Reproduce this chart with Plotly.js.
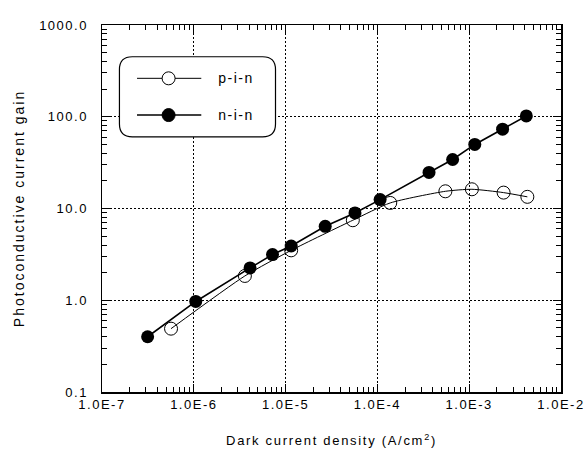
<!DOCTYPE html>
<html>
<head>
<meta charset="utf-8">
<script src="https://cdn.plot.ly/plotly-3.0.1.min.js"></script>
<style>
html,body{margin:0;padding:0;background:#fff;}
#chart{width:586px;height:457px;}
#chart .xtick text, #chart .ytick text { letter-spacing: 1.5px; }
#chart text.xtitle { letter-spacing: 1.7px; }
#chart text.ytitle { letter-spacing: 2px; }
#chart text.annotation-text { letter-spacing: 1.5px; }
</style>
</head>
<body>
<div id="chart"></div>
<script>
// p-i-n (open circles)
const pinX = [5.65e-7, 3.6e-6, 1.15e-5, 5.4e-5, 1.38e-4, 5.5e-4, 1.07e-3, 2.37e-3, 4.3e-3];
const pinY = [0.49, 1.84, 3.5, 7.45, 11.5, 15.4, 16.2, 14.9, 13.4];
// n-i-n (filled circles)
const ninX = [3.14e-7, 1.05e-6, 4.1e-6, 7.2e-6, 1.15e-5, 2.7e-5, 5.7e-5, 1.07e-4, 3.65e-4, 6.6e-4, 1.15e-3, 2.31e-3, 4.19e-3];
const ninY = [0.40, 0.97, 2.25, 3.15, 3.9, 6.4, 8.95, 12.5, 24.7, 34.2, 49.9, 73.3, 102];
// tick labels
const xTickVals = [1e-7, 1e-6, 1e-5, 1e-4, 1e-3, 1e-2];
const xTickText = ['1.0E-7', '1.0E-6', '1.0E-5', '1.0E-4', '1.0E-3', '1.0E-2'];
const yTickVals = [0.1, 1, 10, 100, 1000];
const yTickText = ['0.1', '1.0', '10.0', '100.0', '1000.0'];
const seriesNames = ['p-i-n', 'n-i-n'];

const font = 'Liberation Sans, Arial, sans-serif';

// minor tick positions (2..9 within each decade)
function minorTicks(d0, d1) {
  const out = [];
  for (let d = d0; d < d1; d++) for (let m = 2; m <= 9; m++) out.push(m * Math.pow(10, d));
  return out;
}

const traces = [
  {
    x: pinX, y: pinY, name: seriesNames[0], mode: 'lines+markers', showlegend: false,
    line: {color: 'black', width: 1, shape: 'spline', smoothing: 0.6},
    marker: {symbol: 'circle-open', size: 13, color: 'black', line: {width: 1}}
  },
  {
    x: ninX, y: ninY, name: seriesNames[1], mode: 'lines+markers', showlegend: false,
    line: {color: 'black', width: 1.6},
    marker: {symbol: 'circle', size: 13, color: 'black'}
  }
];

// rounded legend box (paper coords)
const x0 = 0.038, x1 = 0.378, y0 = 0.695, y1 = 0.9135, rx = 0.028, ry = 0.035;
const boxPath = `M${x0+rx},${y1} L${x1-rx},${y1} Q${x1},${y1} ${x1},${y1-ry} L${x1},${y0+ry} Q${x1},${y0} ${x1-rx},${y0} L${x0+rx},${y0} Q${x0},${y0} ${x0},${y0+ry} L${x0},${y1-ry} Q${x0},${y1} ${x0+rx},${y1} Z`;
const rowY = [0.8547, 0.7546];
const legLx0 = 0.0763, legLx1 = 0.2163, legMx = 0.1451, legTx = 0.2578;

const shapes = [
  {type: 'path', xref: 'paper', yref: 'paper', path: boxPath, line: {color: 'black', width: 1.2}, fillcolor: 'white', layer: 'above'}
];
const annotations = [];
rowY.forEach((ry_, i) => {
  shapes.push({type: 'line', xref: 'paper', yref: 'paper', x0: legLx0, x1: legLx1, y0: ry_, y1: ry_,
    line: {color: 'black', width: i === 0 ? 1 : 1.6}, layer: 'above'});
  shapes.push({type: 'circle', xref: 'paper', yref: 'paper', xsizemode: 'pixel', ysizemode: 'pixel',
    xanchor: legMx, yanchor: ry_, x0: -6.5, x1: 6.5, y0: -6.5, y1: 6.5,
    line: {color: 'black', width: 1}, fillcolor: i === 0 ? 'white' : 'black', layer: 'above'});
  annotations.push({xref: 'paper', yref: 'paper', x: legTx, y: ry_, xanchor: 'left', yanchor: 'middle',
    text: seriesNames[i], showarrow: false, font: {family: font, size: 14, color: 'black'}});
});

const axisCommon = {
  type: 'log', showline: true, linecolor: 'black', linewidth: 1.5, mirror: 'ticks',
  ticks: 'inside', ticklen: 8, tickcolor: 'black', tickwidth: 1,
  showgrid: true, gridcolor: 'black', griddash: '2px,2px', gridwidth: 1.2,
  zeroline: false, tickfont: {family: font, size: 13, color: 'black'}
};

const layout = {
  width: 586, height: 457,
  margin: {l: 102, r: 25, t: 25, b: 65},
  paper_bgcolor: 'white', plot_bgcolor: 'white',
  font: {family: font, color: 'black'},
  showlegend: false,
  xaxis: Object.assign({}, axisCommon, {
    range: [-7, -2], tickvals: xTickVals, ticktext: xTickText,
    minor: {tickmode: 'array', tickvals: minorTicks(-7, -2), ticks: 'inside', ticklen: 5, tickcolor: 'black', tickwidth: 1},
    title: {text: 'Dark current density (A/cm<sup>2</sup>)', font: {family: font, size: 13, color: 'black'}, standoff: 25}
  }),
  yaxis: Object.assign({}, axisCommon, {
    range: [-1, 3], tickvals: yTickVals, ticktext: yTickText, ticklabelstandoff: 10,
    minor: {tickmode: 'array', tickvals: minorTicks(-1, 3), ticks: 'inside', ticklen: 5, tickcolor: 'black', tickwidth: 1},
    title: {text: 'Photoconductive current gain', font: {family: font, size: 14, color: 'black'}, standoff: 20}
  }),
  shapes: shapes,
  annotations: annotations
};

Plotly.newPlot('chart', traces, layout, {displayModeBar: false, staticPlot: true});
</script>
</body>
</html>
